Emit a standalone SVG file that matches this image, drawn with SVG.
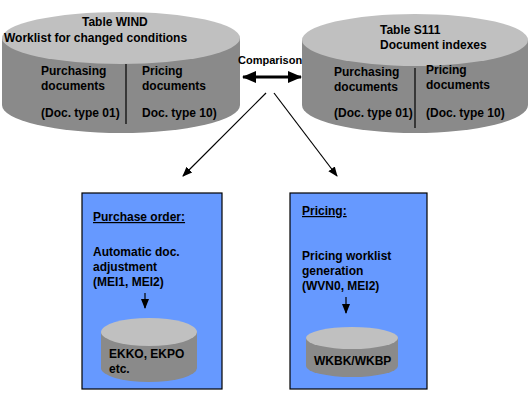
<svg xmlns="http://www.w3.org/2000/svg" width="530" height="409" viewBox="0 0 530 409">
<style>
text{font-family:"Liberation Sans",Arial,sans-serif;font-weight:bold;font-size:12px;fill:#000}
.top{fill:#C0C0C0}
.body{fill:#8A8A8A}
.box{fill:#6699FF;stroke:#000;stroke-width:1.2}
.ln{stroke:#000;stroke-width:1.2;fill:none}
</style>
<defs>
<marker id="ah" markerWidth="10" markerHeight="10" refX="9" refY="5" orient="auto" markerUnits="userSpaceOnUse">
<path d="M0,1 L10,5 L0,9 Z" fill="#000"/>
</marker>
<marker id="big" markerWidth="14" markerHeight="12" refX="13" refY="6" orient="auto-start-reverse" markerUnits="userSpaceOnUse">
<path d="M0,0 L14,6 L0,12 Z" fill="#000"/>
</marker>
</defs>
<rect width="530" height="409" fill="#fff"/>

<g id="wind">
<path class="body" d="M2,38 L2,105 A119,28 0 0 0 240,105 L240,38 Z"/>
<ellipse class="top" cx="121" cy="38" rx="119" ry="26"/>
<text x="82" y="26">Table WIND</text>
<text x="4" y="42">Worklist for changed conditions</text>
<text x="41" y="75">Purchasing</text>
<text x="41" y="90">documents</text>
<text x="41" y="117">(Doc. type 01)</text>
<line class="ln" x1="126" y1="64" x2="126" y2="124"/>
<text x="142" y="75">Pricing</text>
<text x="142" y="90">documents</text>
<text x="142" y="117">Doc. type 10)</text>
</g>

<g id="s111">
<path class="body" d="M302,40 L302,105 A113,28 0 0 0 528,105 L528,40 Z"/>
<ellipse class="top" cx="415" cy="40" rx="113" ry="26"/>
<text x="380" y="34">Table S111</text>
<text x="380" y="49">Document indexes</text>
<text x="334" y="76">Purchasing</text>
<text x="334" y="91">documents</text>
<text x="334" y="117">(Doc. type 01)</text>
<line class="ln" x1="415" y1="68" x2="415" y2="128"/>
<text x="426" y="74">Pricing</text>
<text x="426" y="89">documents</text>
<text x="426" y="117">(Doc. type 10)</text>
</g>

<g id="comparison">
<text x="238" y="64" style="font-size:11px">Comparison</text>
</g>

<g id="po">
<rect class="box" x="82" y="193" width="140" height="196"/>
<text x="93" y="221" text-decoration="underline">Purchase order:</text>
<text x="93" y="256">Automatic doc.</text>
<text x="93" y="271">adjustment</text>
<text x="93" y="286">(MEI1, MEI2)</text>
<path class="body" d="M101,332 L101,368 A48,14 0 0 0 197,368 L197,332 Z"/>
<ellipse class="top" cx="149" cy="332" rx="48" ry="14"/>
<text x="109" y="358">EKKO, EKPO</text>
<text x="109" y="373">etc.</text>
</g>

<g id="pricing">
<rect class="box" x="290" y="193" width="137" height="196"/>
<text x="302" y="215" text-decoration="underline">Pricing:</text>
<text x="302" y="260">Pricing worklist</text>
<text x="302" y="275">generation</text>
<text x="302" y="290">(WVN0, MEI2)</text>
<path class="body" d="M306,338 L306,366 A46,11 0 0 0 398,366 L398,338 Z"/>
<ellipse class="top" cx="352" cy="338" rx="46" ry="11"/>
<text x="314" y="365">WKBK/WKBP</text>
</g>

<g id="connectors">
<line x1="243" y1="77" x2="301" y2="77" stroke="#000" stroke-width="3" marker-start="url(#big)" marker-end="url(#big)"/>
<line class="ln" x1="266" y1="93" x2="183" y2="176" marker-end="url(#ah)"/>
<line class="ln" x1="274" y1="93" x2="337" y2="176" marker-end="url(#ah)"/>
<line class="ln" x1="145" y1="293" x2="145" y2="308" marker-end="url(#ah)"/>
<line class="ln" x1="346" y1="297" x2="346" y2="313" marker-end="url(#ah)"/>
</g>
</svg>
